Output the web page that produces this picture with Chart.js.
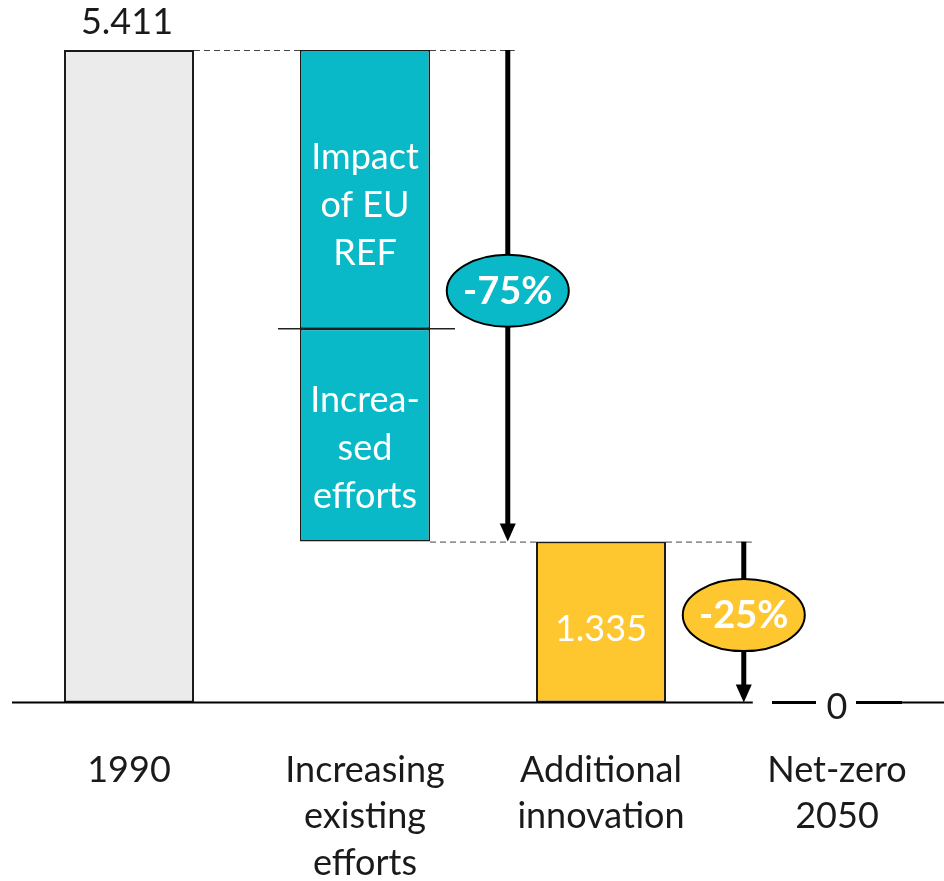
<!DOCTYPE html>
<html>
<head>
<meta charset="utf-8">
<script src="https://cdn.jsdelivr.net/npm/chart.js@4.4.1/dist/chart.umd.min.js"></script>
<style>
  html, body { margin: 0; padding: 0; background: #fff; overflow: hidden; }
  #wrap { position: relative; width: 956px; height: 931px; }
</style>
</head>
<body>
<div id="wrap"><canvas id="waterfall"></canvas></div>
<script>
const categories = ["1990", ["Increasing", "existing", "efforts"], ["Additional", "innovation"], ["Net-zero", "2050"]];

// emissions levels along the waterfall
const emissions1990 = 5.411;
const refLevel = 3.10;        // where the EU REF impact ends and increased efforts begin
const afterEfforts = 1.335;
const netZero = 0;

const baseBar = [[0, emissions1990], null, null, null];
const refBar = [null, [refLevel, emissions1990], null, null];
const effortBar = [null, [afterEfforts, refLevel], null, null];
const innovationBar = [null, null, [netZero, afterEfforts], null];

const refText = ["Impact", "of EU", "REF"];
const effortText = ["Increa-", "sed", "efforts"];

const GREY = "#ebebeb";
const TEAL = "#09b9c7";
const YELLOW = "#fec72f";
const INK = "#1a1a1a";
const FONT = "Lato, 'Open Sans', sans-serif";

function pct(from, to) {
  return "-" + Math.round((from - to) / from * 100) + "%";
}

function arrow(ctx, x, y0, y1) {
  ctx.save();
  ctx.strokeStyle = "#000";
  ctx.fillStyle = "#000";
  ctx.lineWidth = 5;
  ctx.beginPath();
  ctx.moveTo(x, y0);
  ctx.lineTo(x, y1 - 16);
  ctx.stroke();
  ctx.beginPath();
  ctx.moveTo(x - 8, y1 - 18);
  ctx.lineTo(x + 8, y1 - 18);
  ctx.lineTo(x, y1);
  ctx.closePath();
  ctx.fill();
  ctx.restore();
}

function bubble(ctx, x, y, fill, text) {
  ctx.save();
  ctx.beginPath();
  ctx.ellipse(x, y, 61, 36, 0, 0, Math.PI * 2);
  ctx.fillStyle = fill;
  ctx.fill();
  ctx.lineWidth = 2;
  ctx.strokeStyle = "#000";
  ctx.stroke();
  ctx.fillStyle = "#fff";
  ctx.font = "bold 38px " + FONT;
  ctx.textAlign = "center";
  ctx.textBaseline = "middle";
  ctx.fillText(text, x, y + 1);
  ctx.restore();
}

function dashed(ctx, x0, x1, y) {
  ctx.save();
  ctx.strokeStyle = "#444";
  ctx.lineWidth = 1;
  ctx.setLineDash([6, 4]);
  ctx.beginPath();
  ctx.moveTo(x0, y + 0.5);
  ctx.lineTo(x1, y + 0.5);
  ctx.stroke();
  ctx.restore();
}

function lines(ctx, list, x, yMid) {
  const lh = 48;
  const start = yMid - (list.length - 1) * lh / 2;
  list.forEach((t, i) => ctx.fillText(t, x, start + i * lh));
}

const annotations = {
  id: "annotations",
  afterDatasetsDraw(chart) {
    const ctx = chart.ctx;
    const x = chart.scales.x;
    const y = chart.scales.y;
    const bar0 = chart.getDatasetMeta(0).data[0];
    const ref = chart.getDatasetMeta(1).data[1];
    const eff = chart.getDatasetMeta(2).data[1];
    const inn = chart.getDatasetMeta(3).data[2];
    const half = bar0.width / 2;
    const step = x.getPixelForValue(1) - x.getPixelForValue(0);

    const yTop = y.getPixelForValue(emissions1990);
    const yMid = y.getPixelForValue(afterEfforts);
    const yRef = y.getPixelForValue(refLevel);
    const yZero = y.getPixelForValue(netZero);
    const arrow1 = x.getPixelForValue(1) + step * 0.605;
    const arrow2 = x.getPixelForValue(2) + step * 0.605;

    // axis line, broken around the net-zero label
    const zx = x.getPixelForValue(3);
    ctx.save();
    ctx.strokeStyle = "#000";
    ctx.lineWidth = 2;
    ctx.beginPath();
    ctx.moveTo(chart.chartArea.left + 1, yZero);
    ctx.lineTo(arrow2 + 9, yZero);
    ctx.moveTo(zx + 65, yZero);
    ctx.lineTo(chart.width, yZero);
    ctx.stroke();
    ctx.lineWidth = 3;
    ctx.beginPath();
    ctx.moveTo(zx - 65, yZero);
    ctx.lineTo(zx - 21, yZero);
    ctx.moveTo(zx + 19, yZero);
    ctx.lineTo(zx + 65, yZero);
    ctx.stroke();
    ctx.restore();

    // connectors
    dashed(ctx, bar0.x + half, ref.x - half, yTop);
    dashed(ctx, ref.x + half, arrow1 + 7, yTop);
    dashed(ctx, eff.x + half, inn.x - half, yMid);
    dashed(ctx, inn.x + half, arrow2 + 8, yMid);

    // split between the two teal segments
    ctx.save();
    ctx.strokeStyle = "#222";
    ctx.lineWidth = 1.5;
    ctx.beginPath();
    ctx.moveTo(ref.x - half - 22, yRef);
    ctx.lineTo(ref.x + half + 25, yRef);
    ctx.stroke();
    ctx.restore();

    arrow(ctx, arrow1, yTop, yMid);
    arrow(ctx, arrow2, yMid, yZero);
    bubble(ctx, arrow1, (yTop + yMid) / 2 - 5, TEAL, pct(emissions1990, afterEfforts));
    bubble(ctx, arrow2, (yMid + yZero) / 2 - 7, YELLOW, pct(emissions1990, emissions1990 - afterEfforts));

    ctx.save();
    ctx.textAlign = "center";
    ctx.textBaseline = "middle";
    ctx.font = "36px " + FONT;
    ctx.fillStyle = "#fff";
    lines(ctx, refText, ref.x, (yTop + yRef) / 2 + 16);
    lines(ctx, effortText, eff.x, (yRef + yMid) / 2 + 13);
    ctx.fillText(afterEfforts.toFixed(3), inn.x, (yMid + yZero) / 2 + 7);
    ctx.fillStyle = INK;
    ctx.fillText(emissions1990.toFixed(3), bar0.x - 2, yTop - 28);
    ctx.fillText(String(netZero), zx, yZero + 5);
    ctx.restore();
  }
};

const barStyle = { borderColor: "#1a1a1a", borderWidth: 2, borderSkipped: false };

new Chart(document.getElementById("waterfall"), {
  type: "bar",
  data: {
    labels: categories,
    datasets: [
      { label: "1990", data: baseBar, backgroundColor: GREY, ...barStyle },
      { label: "Impact of EU REF", data: refBar, backgroundColor: TEAL, ...barStyle, borderWidth: 1.5 },
      { label: "Increased efforts", data: effortBar, backgroundColor: TEAL, ...barStyle, borderWidth: 1.5 },
      { label: "Additional innovation", data: innovationBar, backgroundColor: YELLOW, ...barStyle }
    ]
  },
  options: {
    responsive: true,
    maintainAspectRatio: false,
    animation: false,
    layout: { padding: { left: 11, right: 1, top: 50, bottom: 0 } },
    datasets: { bar: { grouped: false, categoryPercentage: 0.551, barPercentage: 1 } },
    plugins: { legend: { display: false }, tooltip: { enabled: false } },
    scales: {
      x: {
        grid: { display: false, drawTicks: false },
        border: { display: false },
        ticks: {
          color: INK,
          padding: 44,
          maxRotation: 0,
          autoSkip: false,
          font: { family: FONT, size: 36, lineHeight: 1.3 }
        }
      },
      y: { display: false, min: 0, max: emissions1990 }
    }
  },
  plugins: [annotations]
});
</script>
</body>
</html>
